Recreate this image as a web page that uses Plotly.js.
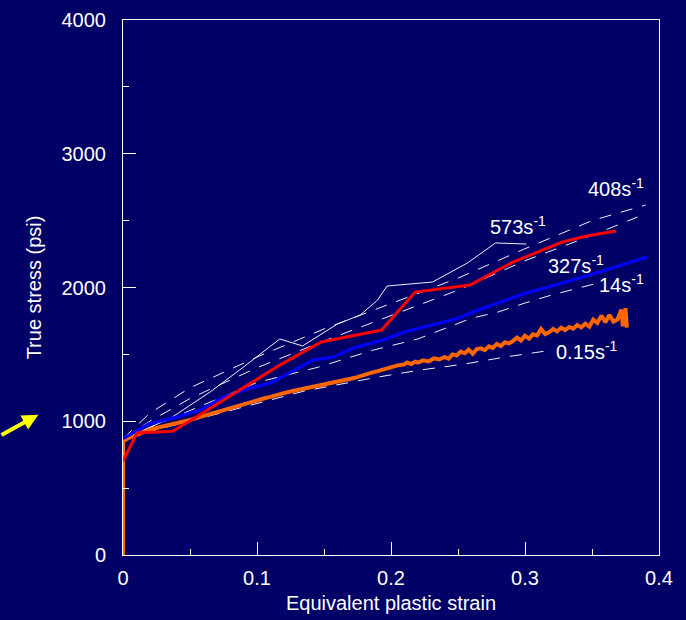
<!DOCTYPE html>
<html>
<head>
<meta charset="utf-8">
<script src="https://cdn.plot.ly/plotly-3.0.1.min.js"></script>
<style>html,body{margin:0;padding:0;background:#000066;}#chart{width:686px;height:620px;}</style>
</head>
<body>
<div id="chart"></div>
<script>
// ---- Data ----
const redStrain = [0, 0.0104, 0.037, 0.048, 0.117, 0.148, 0.193, 0.218, 0.259, 0.291, 0.328, 0.346, 0.368];
const redStress = [700, 912, 925, 990, 1420, 1593, 1682, 1966, 2019, 2190, 2340, 2385, 2422];

const blueStrain = [0, 0.019, 0.040, 0.0575, 0.075, 0.095, 0.110, 0.142, 0.157, 0.172, 0.194, 0.210, 0.251, 0.261, 0.286, 0.301, 0.328, 0.363, 0.391];
const blueStress = [870, 980, 1032, 1084, 1181, 1248, 1286, 1458, 1480, 1548, 1607, 1667, 1772, 1817, 1906, 1959, 2034, 2138, 2228];

const orangeStrain = [0, 0, 0.005, 0.010, 0.015, 0.020, 0.025, 0.030, 0.035, 0.040, 0.045, 0.050, 0.055, 0.060, 0.065, 0.070, 0.075, 0.080, 0.085, 0.090, 0.095, 0.100, 0.105, 0.110, 0.115, 0.120, 0.125, 0.130, 0.135, 0.140, 0.145, 0.150, 0.155, 0.160, 0.165, 0.170, 0.175, 0.180, 0.185, 0.190, 0.195, 0.200, 0.205,
  0.210, 0.212, 0.215, 0.218, 0.220, 0.224, 0.228, 0.232, 0.236, 0.240, 0.243, 0.246, 0.249, 0.252, 0.255, 0.258, 0.261, 0.264, 0.267, 0.270, 0.273, 0.276, 0.279, 0.282, 0.285, 0.288, 0.291, 0.294, 0.297, 0.300, 0.303, 0.306, 0.309, 0.312, 0.315, 0.318, 0.321, 0.324, 0.327, 0.330, 0.333, 0.336, 0.339, 0.342, 0.345, 0.348, 0.351, 0.354, 0.357, 0.360, 0.363, 0.366, 0.369, 0.372, 0.373, 0.375, 0.376];
const orangeStress = [0, 850, 880, 900, 915, 935, 950, 965, 975, 985, 995, 1010, 1025, 1040, 1050, 1068, 1080, 1098, 1110, 1125, 1140, 1158, 1170, 1182, 1198, 1210, 1222, 1232, 1245, 1252, 1262, 1272, 1285, 1294, 1305, 1318, 1330, 1348, 1362, 1375, 1390, 1405, 1418,
  1425, 1440, 1428, 1445, 1438, 1455, 1447, 1470, 1462, 1480, 1468, 1500, 1492, 1520, 1508, 1535, 1505, 1540, 1545, 1532, 1560, 1548, 1578, 1562, 1590, 1582, 1600, 1625, 1603, 1640, 1618, 1650, 1642, 1690, 1652, 1665, 1690, 1672, 1700, 1682, 1705, 1692, 1720, 1702, 1730, 1708, 1760, 1735, 1790, 1740, 1795, 1745, 1760, 1835, 1710, 1845, 1700];

const white573Strain = [0, 0.0366, 0.065, 0.087, 0.117, 0.134, 0.160, 0.177, 0.190, 0.197, 0.231, 0.257, 0.278, 0.301];
const white573Stress = [860, 1030, 1219, 1383, 1615, 1563, 1727, 1794, 1906, 2011, 2041, 2183, 2333, 2325];

const model408Strain = [0, 0.02, 0.05, 0.10, 0.15, 0.20, 0.25, 0.30, 0.35, 0.39];
const model408Stress = [870, 1060, 1250, 1480, 1690, 1880, 2070, 2290, 2500, 2617];

const model327Strain = [0, 0.02, 0.05, 0.10, 0.15, 0.20, 0.25, 0.30, 0.35, 0.384];
const model327Stress = [870, 1000, 1170, 1400, 1600, 1790, 1980, 2200, 2390, 2527];

const model14Strain = [0, 0.05, 0.10, 0.146, 0.186, 0.22, 0.24, 0.26, 0.28, 0.30, 0.32, 0.335, 0.357];
const model14Stress = [870, 1080, 1290, 1405, 1530, 1615, 1690, 1770, 1817, 1884, 1944, 1985, 2040];

const model015Strain = [0, 0.05, 0.10, 0.135, 0.19, 0.222, 0.255, 0.285, 0.321];
const model015Stress = [870, 1000, 1130, 1225, 1330, 1383, 1428, 1480, 1533];

const labelText = ["408s<sup>-1</sup>", "573s<sup>-1</sup>", "327s<sup>-1</sup>", "14s<sup>-1</sup>", "0.15s<sup>-1</sup>"];
const labelStrain = [0.368, 0.295, 0.338, 0.372, 0.346];
const labelStress = [2750, 2460, 2170, 2030, 1530];

const xTickVals = [0, 0.1, 0.2, 0.3, 0.4];
const xTickText = ["0", "0.1", "0.2", "0.3", "0.4"];
const yTickVals = [0, 1000, 2000, 3000, 4000];
const yTickText = ["0", "1000", "2000", "3000", "4000"];

// ---- Traces ----
const dashStyle = "12px,10px";
const traces = [
  {x: model015Strain, y: model015Stress, mode: "lines", line: {color: "#f0f0f8", width: 1, dash: dashStyle}},
  {x: model14Strain, y: model14Stress, mode: "lines", line: {color: "#f0f0f8", width: 1, dash: dashStyle}},
  {x: model327Strain, y: model327Stress, mode: "lines", line: {color: "#f0f0f8", width: 1, dash: dashStyle}},
  {x: model408Strain, y: model408Stress, mode: "lines", line: {color: "#f0f0f8", width: 1, dash: dashStyle}},
  {x: white573Strain, y: white573Stress, mode: "lines", line: {color: "#f0f0f8", width: 1}},
  {x: orangeStrain, y: orangeStress, mode: "lines", line: {color: "#FF6600", width: 4}},
  {x: blueStrain, y: blueStress, mode: "lines", line: {color: "#0000FF", width: 3}},
  {x: redStrain, y: redStress, mode: "lines", line: {color: "#FF0000", width: 3}}
];

const font = "Liberation Sans, Arial, sans-serif";
const annotations = labelText.map((t, i) => ({
  x: labelStrain[i], y: labelStress[i], xref: "x", yref: "y", text: t, showarrow: false,
  font: {family: font, size: 20, color: "#ffffff"}, xanchor: "center", yanchor: "middle"
}));
annotations.push({
  x: -0.158, y: 0.262, xref: "paper", yref: "paper", ax: -46, ay: 21, text: "",
  showarrow: true, arrowcolor: "#FFFF00", arrowwidth: 4, arrowhead: 2, arrowsize: 0.8, standoff: 0
});

const layout = {
  width: 686, height: 620,
  paper_bgcolor: "#000066", plot_bgcolor: "#000066",
  margin: {l: 123, r: 27, t: 20, b: 65},
  showlegend: false,
  font: {family: font, size: 20, color: "#ffffff"},
  xaxis: {
    range: [0, 0.4], tickvals: xTickVals, ticktext: xTickText,
    ticks: "inside", ticklen: 13, tickcolor: "#ffffff", tickwidth: 1,
    minor: {dtick: 0.05, ticks: "inside", ticklen: 6, tickcolor: "#ffffff", showgrid: false},
    showline: true, linecolor: "#ffffff", linewidth: 1, mirror: true,
    showgrid: false, zeroline: false, ticklabelstandoff: 5,
    tickfont: {family: font, size: 20, color: "#ffffff"},
    title: {text: "Equivalent plastic strain", font: {family: font, size: 20, color: "#ffffff"}, standoff: 7}
  },
  yaxis: {
    range: [0, 4000], tickvals: yTickVals, ticktext: yTickText,
    ticks: "inside", ticklen: 13, tickcolor: "#ffffff", tickwidth: 1,
    minor: {dtick: 500, ticks: "inside", ticklen: 6, tickcolor: "#ffffff", showgrid: false},
    showline: true, linecolor: "#ffffff", linewidth: 1, mirror: true,
    showgrid: false, zeroline: false, ticklabelstandoff: 12,
    tickfont: {family: font, size: 20, color: "#ffffff"},
    title: {text: "True stress (psi)", font: {family: font, size: 20, color: "#ffffff"}, standoff: 14}
  },
  annotations: annotations
};

Plotly.newPlot("chart", traces, layout, {staticPlot: true, displayModeBar: false});
</script>
</body>
</html>
